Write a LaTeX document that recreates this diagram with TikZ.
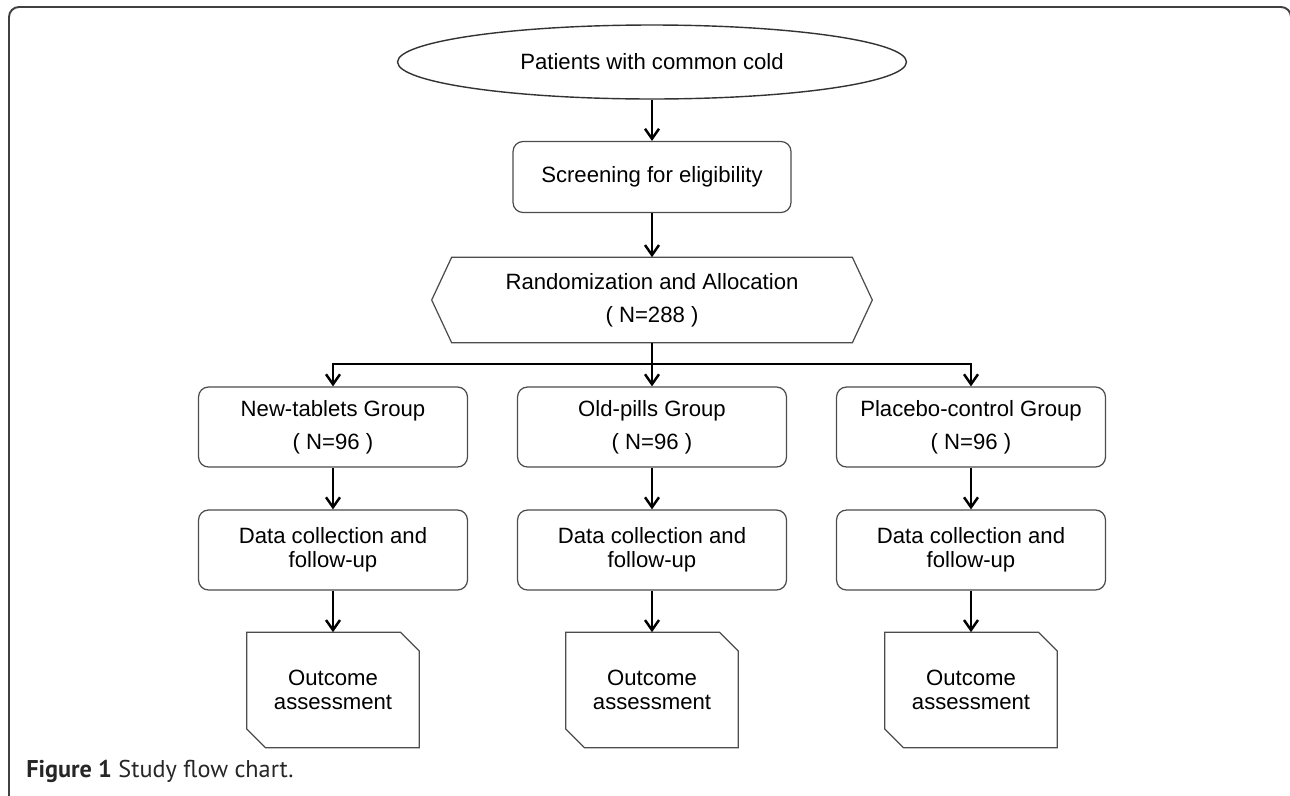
\documentclass[tikz,border=0pt]{standalone}
\usepackage{fontspec}
\setmainfont{Liberation Sans}
\newfontfamily\capfont{PT Sans}
\usetikzlibrary{arrows.meta, positioning, shapes.geometric}

\begin{document}
\begin{tikzpicture}[x=0.02cm, y=-0.02cm,
  txt/.style={align=center, font=\fontsize{12.6}{13.5}\selectfont},
  box/.style={txt, draw=black!70, line width=0.7pt, rounded corners=0.2cm,
    minimum width=5.38cm, minimum height=1.6cm},
  edge/.style={draw=black!70, line width=0.7pt},
  link/.style={line width=1.4pt},
  arr/.style={link, -{Straight Barb[length=0.2cm,width=0.28cm]}}]
\useasboundingbox (0,0) rectangle (1290,795);
%outer frame
\draw[black!75, line width=1.1pt, rounded corners=0.2cm] (9,800) -- (9,7) -- (1291,7) -- (1291,800);
%top of the chart
\node[txt, ellipse, draw=black!80, line width=0.8pt, minimum width=10.18cm, minimum height=1.48cm] (cold) at (652,62) {Patients with common cold};
\node[box, minimum width=5.56cm, minimum height=1.42cm] (screen) at (652,177) {Screening for eligibility};
\node[txt, minimum width=8.8cm, minimum height=1.7cm] (rand) at (652,300) {Randomization and Allocation\\[5.5pt]( N=288 )};
\draw[edge] ([xshift=0.4cm]rand.north west) -- ([xshift=-0.4cm]rand.north east) -- (rand.east)
  -- ([xshift=-0.4cm]rand.south east) -- ([xshift=0.4cm]rand.south west) -- (rand.west) -- cycle;
%three groups
\node[box] (newgrp) at (333,427) {New-tablets Group\\[5.5pt]( N=96 )};
\node[box] (oldgrp) at (652,427) {Old-pills Group\\[5.5pt]( N=96 )};
\node[box] (plagrp) at (971,427) {Placebo-control Group\\[5.5pt]( N=96 )};
%follow-up boxes
\node[box] (newdata) at (333,550) {Data collection and\\follow-up};
\node[box] (olddata) at (652,550) {Data collection and\\follow-up};
\node[box] (pladata) at (971,550) {Data collection and\\follow-up};
%outcome boxes
\node[txt, minimum width=3.44cm, minimum height=2.3cm] (newout) at (333,690) {Outcome\\assessment};
\node[txt, minimum width=3.44cm, minimum height=2.3cm] (oldout) at (652,690) {Outcome\\assessment};
\node[txt, minimum width=3.44cm, minimum height=2.3cm] (plaout) at (971,690) {Outcome\\assessment};
\foreach \n in {newout,oldout,plaout}
  \draw[edge] (\n.north west) -- ([xshift=-0.38cm]\n.north east) -- ([yshift=-0.38cm]\n.north east)
    -- (\n.south east) -- ([xshift=0.38cm]\n.south west) -- ([yshift=0.38cm]\n.south west) -- cycle;
%arrows
\draw[arr] (cold) -- (screen);
\draw[arr] (screen) -- (rand);
\coordinate (split) at (652,364);
\draw[link] (rand) -- (split);
\draw[arr] (split) -| (newgrp);
\draw[arr] (split) -- (oldgrp);
\draw[arr] (split) -| (plagrp);
\foreach \g in {new,old,pla} {
  \draw[arr] (\g grp) -- (\g data);
  \draw[arr] (\g data) -- (\g out);
}
%caption
\node[anchor=base west, inner sep=0, text=black!85, font=\capfont\fontsize{13.8}{15}\selectfont] (cap) at (26,777) {\textbf{Figure 1} Study flow chart.};
\end{tikzpicture}
\end{document}
